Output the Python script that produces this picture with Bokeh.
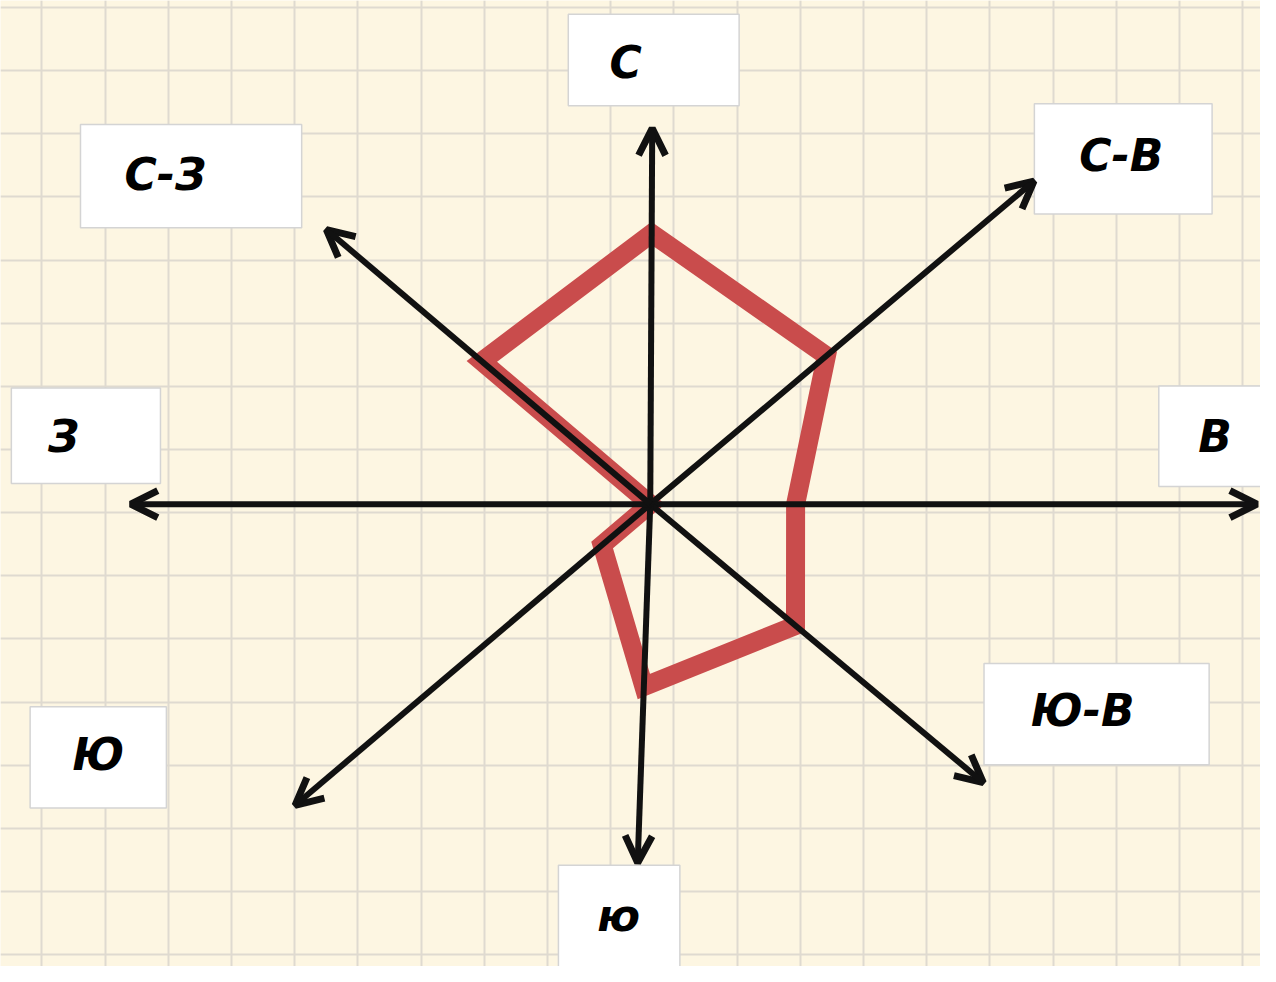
import numpy as np
from bokeh.plotting import figure
from bokeh.models import Arrow, OpenHead, Grid, FixedTicker, Range1d, ColumnDataSource
from bokeh.core.properties import value
from bokeh.embed import file_html
from bokeh.resources import INLINE

# ---- data (wind rose, values in grid cells) ----
directions = ["С", "С-В", "В", "Ю-В", "Ю", "Ю-З", "З", "С-З"]
values = [4.3, 3.65, 2.3, 3.0, 2.9, 1.0, 0.0, 3.5]
label_texts = ["С", "С-В", "В", "Ю-В", "ю", "Ю", "З", "С-З"]

# ---- layout (hand-drawn geometry of the original) ----
CELL = 64.0                      # px per grid cell in reference
CX, CY = 658.0, 512.0            # centre of the rose (reference px)
W_REF, H_REF = 1276.0, 982.0
angles_deg = [89.7, 40.2, 0.0, -40.0, -92.0, -139.6, 180.0, 139.6]
axis_len = [5.97, 7.95, 9.6, 6.88, 5.7, 7.38, 8.22, 6.73]   # cells

# label boxes: left, right, top, bottom (reference px) and text centres
boxes = [
    (575, 748, 14, 107, 633, 63),
    (1047, 1227, 105, 217, 1135, 158),
    (1173, 1285, 392, 494, 1230, 443),
    (996, 1224, 674, 777, 1096, 722),
    (565, 688, 879, 995, 626, 930),
    (30, 168, 718, 821, 99, 766),
    (11, 162, 394, 491, 64, 443),
    (81, 305, 126, 231, 167, 177),
]

def fx(x):
    return x - CX

def fy(y):
    return CY - y

p = figure(width=1260, height=966, output_backend="svg", toolbar_location=None,
           x_range=Range1d(fx(0), fx(W_REF)), y_range=Range1d(fy(H_REF), fy(0)),
           x_axis_type=None, y_axis_type=None, min_border=0)
p.background_fill_color = "#fdf6e2"
p.border_fill_color = "#fdf6e2"
p.outline_line_color = None

# graph-paper grid
xt = list(np.arange(42, W_REF + 1, CELL) - CX)
yt = list(CY - np.arange(7, H_REF + 1, 64.2))
p.add_layout(Grid(dimension=0, ticker=FixedTicker(ticks=xt),
                  grid_line_color="#dfdad0", grid_line_width=2))
p.add_layout(Grid(dimension=1, ticker=FixedTicker(ticks=yt),
                  grid_line_color="#dfdad0", grid_line_width=2))

ang = np.radians(angles_deg)

# wind rose polygon
vx = np.array(values) * CELL * np.cos(ang)
vy = np.array(values) * CELL * np.sin(ang)
p.patch(list(vx), list(vy), fill_color=None, line_color="#c94c4c",
        line_width=19, line_join="miter")

# direction axes with open arrow heads
for a, L in zip(ang, axis_len):
    p.add_layout(Arrow(end=OpenHead(size=27, line_width=7, line_color="#111111"),
                       x_start=0, y_start=0,
                       x_end=L * CELL * np.cos(a), y_end=L * CELL * np.sin(a),
                       line_color="#111111", line_width=6))

# label boxes
src = ColumnDataSource(dict(
    left=[fx(b[0]) for b in boxes], right=[fx(b[1]) for b in boxes],
    top=[fy(b[2]) for b in boxes], bottom=[fy(b[3]) for b in boxes],
    tx=[fx(b[4]) for b in boxes], ty=[fy(b[5]) for b in boxes],
    txt=label_texts))
p.quad(left="left", right="right", top="top", bottom="bottom", source=src,
       fill_color="white", line_color="#d4d4d4", line_width=1.5)
p.text(x="tx", y="ty", text="txt", source=src, text_align="center",
       text_baseline="middle", text_font=value("DejaVu Sans"),
       text_font_style="bold italic", text_font_size="44px", text_color="#000000")

open("out.html", "w").write(file_html(p, INLINE))
